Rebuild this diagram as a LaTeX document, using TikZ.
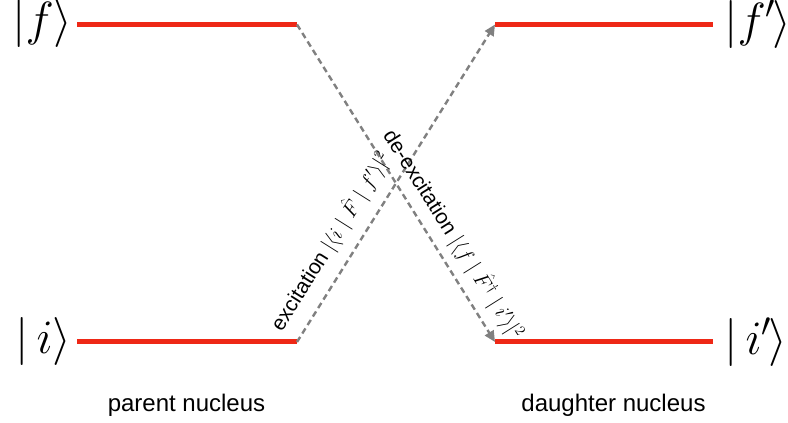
\RequirePackage{fix-cm}
\documentclass[tikz,border=0pt]{standalone}
\usepackage{fontspec}
\newfontfamily\helv{Liberation Sans}
\usetikzlibrary{arrows.meta}
\definecolor{levelred}{RGB}{238,40,22}
\definecolor{arrowgray}{RGB}{128,128,128}
\begin{document}
\begin{tikzpicture}[x=1pt,y=1pt,
  level/.style={draw=levelred,line width=5pt},
  trans/.style={draw=arrowgray,line width=2.4pt,dash pattern=on 6pt off 4pt,
    -{Triangle[length=11pt,width=10pt]}},
  ket/.style={inner sep=0pt,font=\fontsize{48}{54}\selectfont},
  translabel/.style={inner sep=0pt,font=\helv\fontsize{21}{25}\selectfont},
  nucleus/.style={inner sep=0pt,font=\helv\fontsize{24}{28}\selectfont}]
\useasboundingbox (0,0) rectangle (788,423);
% levels
\coordinate (fs) at (77,398.5);  \coordinate (fe) at (297,398.5);
\coordinate (is) at (77,81);     \coordinate (ie) at (297,81);
\coordinate (fps) at (495,398.5); \coordinate (fpe) at (713,398.5);
\coordinate (ips) at (495,81);    \coordinate (ipe) at (713,81);
\draw[level] (fs) -- (fe);
\draw[level] (is) -- (ie);
\draw[level] (fps) -- (fpe);
\draw[level] (ips) -- (ipe);
% kets
\node[ket,anchor=west] (kf) at (12,399) {$|f\rangle$};
\node[ket,anchor=west] (ki) at (15,81) {$|\,i\rangle$};
\node[ket,anchor=west] (kfp) at (724,399) {$|f'\mkern-1mu\rangle$};
\node[ket,anchor=west] (kip) at (724,81) {$|\,i'\mkern-1mu\rangle$};
% transitions
\draw[trans] (ie) -- (fps);
\draw[trans] (fe) -- (ips);
\node[translabel,anchor=base west,rotate=57.8] (exl) at (281.8,90.6)
  {excitation $|\langle i\mid\hat{F}\mid f'\rangle|^{2}$};
\node[translabel,anchor=base west,rotate=-57.8] (dexl) at (382.6,287.5)
  {de-excitation $|\langle f\mid\hat{F}^{\dagger}\mid i'\rangle|^{2}$};
% nuclei
\node[nucleus,anchor=base] (pn) at (186.5,11) {parent nucleus};
\node[nucleus,anchor=base] (dn) at (613.5,11) {daughter nucleus};
\end{tikzpicture}
\end{document}
